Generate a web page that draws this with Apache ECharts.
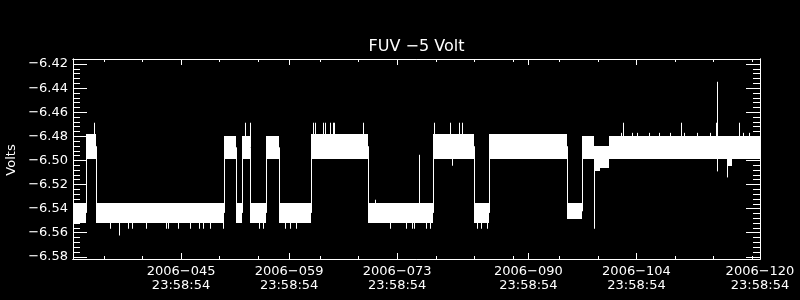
<!DOCTYPE html>
<html><head><meta charset="utf-8">
<script src="https://cdn.jsdelivr.net/npm/echarts@6/dist/echarts.min.js"></script>
<style>html,body{margin:0;padding:0;background:#000;}#c{width:800px;height:300px;}</style>
</head><body><div id="c"></div>
<script>
// ---- Data (x = day of year 2006, y = Volts) ----
const titleText = 'FUV \u22125 Volt';
const yName = 'Volts';
const X_MIN = 31.0, X_MAX = 120.0;
const Y_MIN = -6.5818, Y_MAX = -6.4158;

const xMajorDays = [45, 59, 73, 90, 104, 120];
const xTickLabels = ['2006\u2212045\n23:58:54', '2006\u2212059\n23:58:54', '2006\u2212073\n23:58:54',
                     '2006\u2212090\n23:58:54', '2006\u2212104\n23:58:54', '2006\u2212120\n23:58:54'];
const xMinorDays = [35, 40, 50, 55, 63, 68, 78, 83, 88, 94, 99, 109, 114, 119];
const yMajor = [-6.58, -6.56, -6.54, -6.52, -6.50, -6.48, -6.46, -6.44, -6.42];
const yTickLabels = ['\u22126.58', '\u22126.56', '\u22126.54', '\u22126.52', '\u22126.50',
                     '\u22126.48', '\u22126.46', '\u22126.44', '\u22126.42'];

// noise bands: start day, end day, top volts, bottom volts
const segStart  = [31.00, 32.68, 33.94, 50.56, 52.12, 52.95, 53.93, 56.00, 57.73, 61.79, 69.18, 77.60, 82.95, 84.93, 94.96, 96.90, 98.53, 99.27, 100.44, 115.69, 116.34];
const segEnd    = [32.68, 33.94, 50.56, 52.12, 52.95, 53.93, 56.00, 57.73, 61.79, 69.18, 77.60, 82.95, 84.93, 94.96, 96.90, 98.53, 99.27, 100.44, 115.69, 116.34, 120.00];
const segTop    = [-6.5354, -6.4778, -6.5354, -6.4796, -6.5354, -6.4796, -6.5354, -6.4796, -6.5354, -6.4778, -6.5354, -6.4778, -6.5354, -6.4778, -6.5354, -6.4796, -6.4878, -6.4878, -6.4796, -6.4796, -6.4796];
const segBottom = [-6.5517, -6.4986, -6.5517, -6.4986, -6.5517, -6.4986, -6.5517, -6.4986, -6.5517, -6.4986, -6.5517, -6.4986, -6.5517, -6.4986, -6.5490, -6.4986, -6.5091, -6.5060, -6.4986, -6.5044, -6.4986];

// single spikes: day, extreme volts
const spikeT = [33.76, 53.28, 53.90, 62.05, 62.31, 63.39, 63.65, 64.29, 64.62, 64.85, 68.57, 77.77, 79.88, 81.07, 81.36, 102.29, 109.81, 114.30, 117.32, 114.47,
                35.79, 37.00, 38.13, 38.58, 40.46, 43.05, 43.31, 44.60, 46.16, 47.36, 47.88, 48.75, 50.43, 55.10, 55.55, 58.46, 59.11, 59.89,
                72.07, 74.10, 74.92, 75.24, 76.73, 77.25, 83.34, 83.86, 84.57, 98.55,
                75.86, 70.16, 80.14, 115.70, 114.47,
                101.95, 103.40, 104.10, 105.60, 106.90, 108.40, 110.20, 111.90, 113.50, 117.80, 118.60];
const spikeV = [-6.4687, -6.4687, -6.4687, -6.4687, -6.4687, -6.4687, -6.4687, -6.4687, -6.4687, -6.4687, -6.4687, -6.4687, -6.4687, -6.4687, -6.4687, -6.4687, -6.4687, -6.4687, -6.4687, -6.4347,
                -6.5567, -6.5623, -6.5567, -6.5567, -6.5567, -6.5567, -6.5567, -6.5567, -6.5567, -6.5567, -6.5567, -6.5567, -6.5567, -6.5567, -6.5567, -6.5567, -6.5567, -6.5567,
                -6.5567, -6.5567, -6.5567, -6.5567, -6.5567, -6.5567, -6.5567, -6.5567, -6.5567, -6.5567,
                -6.4953, -6.5326, -6.5044, -6.5141, -6.5091,
                -6.4771, -6.4771, -6.4771, -6.4771, -6.4771, -6.4771, -6.4771, -6.4771, -6.4771, -6.4771, -6.4771];

// ---- Build ----
const FONT = '"DejaVu Sans", sans-serif';
const yMinor = [];
for (let k = 0; k <= 41; k++) yMinor.push(+(-6.58 + k * 0.004).toFixed(3));

function mid(i) { return (segTop[i] + segBottom[i]) / 2; }
function segAt(t) { for (let i = 0; i < segStart.length; i++) if (t >= segStart[i] && t <= segEnd[i]) return i; return 0; }

const bandData = segStart.map((s, i) => [s, segEnd[i], segTop[i], segBottom[i]]);
const lineData = [];
for (let i = 1; i < segStart.length; i++) lineData.push([segStart[i], mid(i - 1), mid(i)]);
spikeT.forEach((t, j) => lineData.push([t, mid(segAt(t)), spikeV[j]]));

function mkX(pos, vals, len, lab) {
  return {
    type: 'value', position: pos, min: X_MIN, max: X_MAX,
    splitLine: { show: false }, minorTick: { show: false },
    axisLine: { show: true, onZero: false, lineStyle: { color: '#fff', width: 1 } },
    axisTick: { show: true, inside: true, length: len, customValues: vals, lineStyle: { color: '#fff', width: 1 } },
    axisLabel: {
      show: lab, customValues: vals, color: '#fff', fontFamily: FONT, fontSize: 13, lineHeight: 14, margin: 6,
      formatter: v => { const i = xMajorDays.indexOf(Math.round(v)); return i >= 0 ? xTickLabels[i] : ''; }
    }
  };
}
function mkY(pos, vals, len, lab) {
  return {
    type: 'value', position: pos, min: Y_MIN, max: Y_MAX,
    splitLine: { show: false }, minorTick: { show: false },
    axisLine: { show: true, onZero: false, lineStyle: { color: '#fff', width: 1 } },
    axisTick: { show: true, inside: true, length: len, customValues: vals, lineStyle: { color: '#fff', width: 1 } },
    axisLabel: {
      show: lab, customValues: vals, color: '#fff', fontFamily: FONT, fontSize: 13, margin: 5,
      formatter: v => { const i = yMajor.findIndex(m => Math.abs(m - v) < 1e-6); return i >= 0 ? yTickLabels[i] : ''; }
    }
  };
}

const chart = echarts.init(document.getElementById('c'), null, { renderer: 'canvas' });
chart.setOption({
  backgroundColor: '#000',
  animation: false,
  grid: { left: 73, right: 40, top: 59, bottom: 41 },
  xAxis: [mkX('bottom', xMajorDays, 6, true), mkX('bottom', xMinorDays, 3, false), mkX('top', xMajorDays, 6, false), mkX('top', xMinorDays, 3, false)],
  yAxis: [mkY('left', yMajor, 14, true), mkY('left', yMinor, 7, false), mkY('right', yMajor, 14, false), mkY('right', yMinor, 7, false)],
  series: [
    {
      type: 'custom', xAxisIndex: 0, yAxisIndex: 0, clip: true, data: bandData,
      encode: { x: [0, 1], y: [2, 3] },
      renderItem: (params, api) => {
        const p1 = api.coord([api.value(0), api.value(2)]);
        const p2 = api.coord([api.value(1), api.value(3)]);
        const x1 = Math.round(p1[0]), x2 = Math.round(p2[0]);
        const y1 = Math.round(p1[1]), y2 = Math.round(p2[1]);
        return { type: 'rect', shape: { x: x1, y: y1, width: Math.max(1, x2 - x1), height: y2 - y1 }, style: { fill: '#fff' } };
      }
    },
    {
      type: 'custom', xAxisIndex: 0, yAxisIndex: 0, clip: true, data: lineData,
      encode: { x: 0, y: [1, 2] },
      renderItem: (params, api) => {
        const a = api.coord([api.value(0), api.value(1)]);
        const b = api.coord([api.value(0), api.value(2)]);
        const x = Math.round(a[0]) + 0.5;
        return { type: 'line', shape: { x1: x, y1: a[1], x2: x, y2: b[1] }, style: { stroke: '#fff', lineWidth: 1 } };
      }
    }
  ],
  graphic: [
    { type: 'text', x: 416.5, y: 46.5, style: { text: titleText, fill: '#fff', font: '16px ' + FONT, align: 'center', verticalAlign: 'middle' } },
    { type: 'text', x: 12, y: 160, rotation: Math.PI / 2, style: { text: yName, fill: '#fff', font: '13px ' + FONT, align: 'center', verticalAlign: 'middle' } }
  ]
});
</script></body></html>
